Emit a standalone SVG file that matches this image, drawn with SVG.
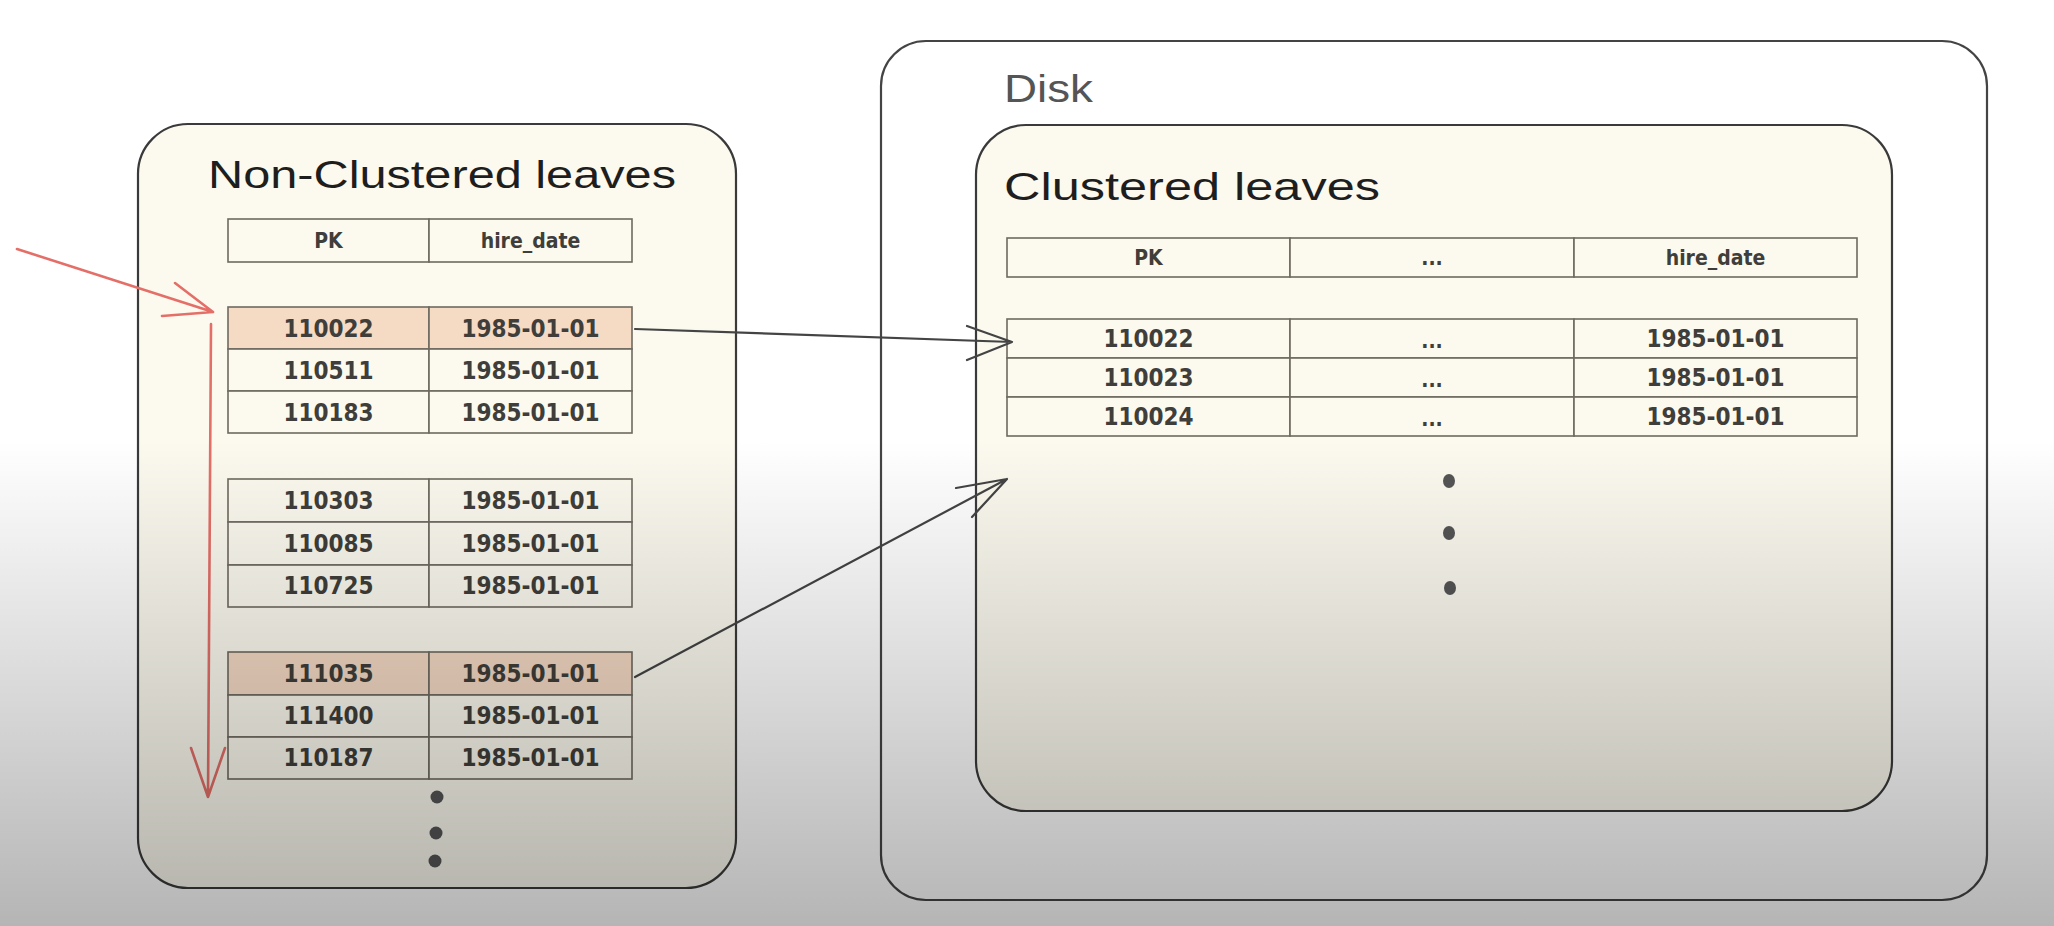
<svg xmlns="http://www.w3.org/2000/svg" width="2054" height="926" viewBox="0 0 2054 926">
<defs>
<linearGradient id="shade" x1="0" y1="0" x2="0" y2="1" gradientUnits="objectBoundingBox">
<stop offset="0" stop-color="#000" stop-opacity="0"/>
<stop offset="1" stop-color="#000" stop-opacity="0.29"/>
</linearGradient>
<style>
.box{fill:#fcfaef;stroke:#3a3a3a;stroke-width:2.2}
.outer{fill:#ffffff;stroke:#444;stroke-width:2.2}
.cell{fill:#fcfaef;stroke:#6e6a60;stroke-width:1.6}
.hl{fill:#f5dac4;stroke:#6e6a60;stroke-width:1.6}
.t{font-family:"DejaVu Sans Condensed","Liberation Sans Narrow","DejaVu Sans",sans-serif;font-weight:bold;fill:#403e3a;text-anchor:middle;font-stretch:condensed}
.row{font-size:24px}
.hdr{font-size:21px}
.title{font-family:"Liberation Sans",sans-serif;fill:#1e1e1e;font-size:38px}
.dot{fill:#555}
.red{stroke:#e46f68;stroke-width:2.6;fill:none;stroke-linecap:round;stroke-linejoin:round}
.blk{stroke:#444;stroke-width:2.2;fill:none;stroke-linecap:round;stroke-linejoin:round}
</style>
</defs>
<rect x="0" y="0" width="2054" height="926" fill="#ffffff"/>

<g id="disk">
<rect class="outer" x="881" y="41" width="1106" height="859" rx="45"/>
<text class="title" x="1004" y="102" style="fill:#555" font-size="40" textLength="89" lengthAdjust="spacingAndGlyphs">Disk</text>
</g>

<g id="nonclustered">
<rect class="box" x="138" y="124" width="598" height="764" rx="50"/>
<text class="title" x="208" y="188" textLength="468" lengthAdjust="spacingAndGlyphs">Non-Clustered leaves</text>
<g id="nc-header">
<rect class="cell" x="228" y="219" width="201" height="43"/>
<rect class="cell" x="429" y="219" width="203" height="43"/>
<text class="t hdr" x="328.5" y="248">PK</text>
<text class="t hdr" x="530.5" y="248">hire_date</text>
</g>
<g id="nc-page1">
<rect class="hl" x="228" y="307" width="201" height="42"/>
<rect class="hl" x="429" y="307" width="203" height="42"/>
<rect class="cell" x="228" y="349" width="201" height="42"/>
<rect class="cell" x="429" y="349" width="203" height="42"/>
<rect class="cell" x="228" y="391" width="201" height="42"/>
<rect class="cell" x="429" y="391" width="203" height="42"/>
<text class="t row" x="328.5" y="337">110022</text><text class="t row" x="530.5" y="337">1985-01-01</text>
<text class="t row" x="328.5" y="379">110511</text><text class="t row" x="530.5" y="379">1985-01-01</text>
<text class="t row" x="328.5" y="421">110183</text><text class="t row" x="530.5" y="421">1985-01-01</text>
</g>
<g id="nc-page2">
<rect class="cell" x="228" y="479" width="201" height="43"/>
<rect class="cell" x="429" y="479" width="203" height="43"/>
<rect class="cell" x="228" y="522" width="201" height="43"/>
<rect class="cell" x="429" y="522" width="203" height="43"/>
<rect class="cell" x="228" y="565" width="201" height="42"/>
<rect class="cell" x="429" y="565" width="203" height="42"/>
<text class="t row" x="328.5" y="509">110303</text><text class="t row" x="530.5" y="509">1985-01-01</text>
<text class="t row" x="328.5" y="552">110085</text><text class="t row" x="530.5" y="552">1985-01-01</text>
<text class="t row" x="328.5" y="594">110725</text><text class="t row" x="530.5" y="594">1985-01-01</text>
</g>
<g id="nc-page3">
<rect class="hl" x="228" y="652" width="201" height="43"/>
<rect class="hl" x="429" y="652" width="203" height="43"/>
<rect class="cell" x="228" y="695" width="201" height="42"/>
<rect class="cell" x="429" y="695" width="203" height="42"/>
<rect class="cell" x="228" y="737" width="201" height="42"/>
<rect class="cell" x="429" y="737" width="203" height="42"/>
<text class="t row" x="328.5" y="682">111035</text><text class="t row" x="530.5" y="682">1985-01-01</text>
<text class="t row" x="328.5" y="724">111400</text><text class="t row" x="530.5" y="724">1985-01-01</text>
<text class="t row" x="328.5" y="766">110187</text><text class="t row" x="530.5" y="766">1985-01-01</text>
</g>
<circle class="dot" cx="437" cy="797" r="6.5"/>
<circle class="dot" cx="436" cy="833" r="6.5"/>
<circle class="dot" cx="435" cy="861" r="6.5"/>
</g>

<g id="clustered">
<rect class="box" x="976" y="125" width="916" height="686" rx="50"/>
<text class="title" x="1004" y="200" textLength="376" lengthAdjust="spacingAndGlyphs">Clustered leaves</text>
<g id="c-header">
<rect class="cell" x="1007" y="238" width="283" height="39"/>
<rect class="cell" x="1290" y="238" width="284" height="39"/>
<rect class="cell" x="1574" y="238" width="283" height="39"/>
<text class="t hdr" x="1148.5" y="265">PK</text>
<text class="t hdr" x="1432" y="265">...</text>
<text class="t hdr" x="1715.5" y="265">hire_date</text>
</g>
<g id="c-rows">
<rect class="cell" x="1007" y="319" width="283" height="39"/>
<rect class="cell" x="1290" y="319" width="284" height="39"/>
<rect class="cell" x="1574" y="319" width="283" height="39"/>
<rect class="cell" x="1007" y="358" width="283" height="39"/>
<rect class="cell" x="1290" y="358" width="284" height="39"/>
<rect class="cell" x="1574" y="358" width="283" height="39"/>
<rect class="cell" x="1007" y="397" width="283" height="39"/>
<rect class="cell" x="1290" y="397" width="284" height="39"/>
<rect class="cell" x="1574" y="397" width="283" height="39"/>
<text class="t row" x="1148.5" y="347">110022</text><text class="t hdr" x="1432" y="348">...</text><text class="t row" x="1715.5" y="347">1985-01-01</text>
<text class="t row" x="1148.5" y="386">110023</text><text class="t hdr" x="1432" y="387">...</text><text class="t row" x="1715.5" y="386">1985-01-01</text>
<text class="t row" x="1148.5" y="425">110024</text><text class="t hdr" x="1432" y="426">...</text><text class="t row" x="1715.5" y="425">1985-01-01</text>
</g>
<ellipse class="dot" cx="1449" cy="481" rx="6" ry="7"/>
<ellipse class="dot" cx="1449" cy="533" rx="6" ry="7"/>
<ellipse class="dot" cx="1450" cy="588" rx="6" ry="7"/>
</g>

<g id="connectors">
<path class="red" d="M17,249 L213,312 M175,283 L213,312 L162,316"/>
<path class="red" d="M211,324 L208,797 M191,748 L208,797 L225,748"/>
<path class="blk" d="M635,329 L1012,342 M967,326 L1012,342 L967,360"/>
<path class="blk" d="M635,677 L1007,479 M956,488 L1007,479 L972,517"/>
</g>

<rect x="0" y="440" width="2054" height="486" fill="url(#shade)"/>
</svg>
